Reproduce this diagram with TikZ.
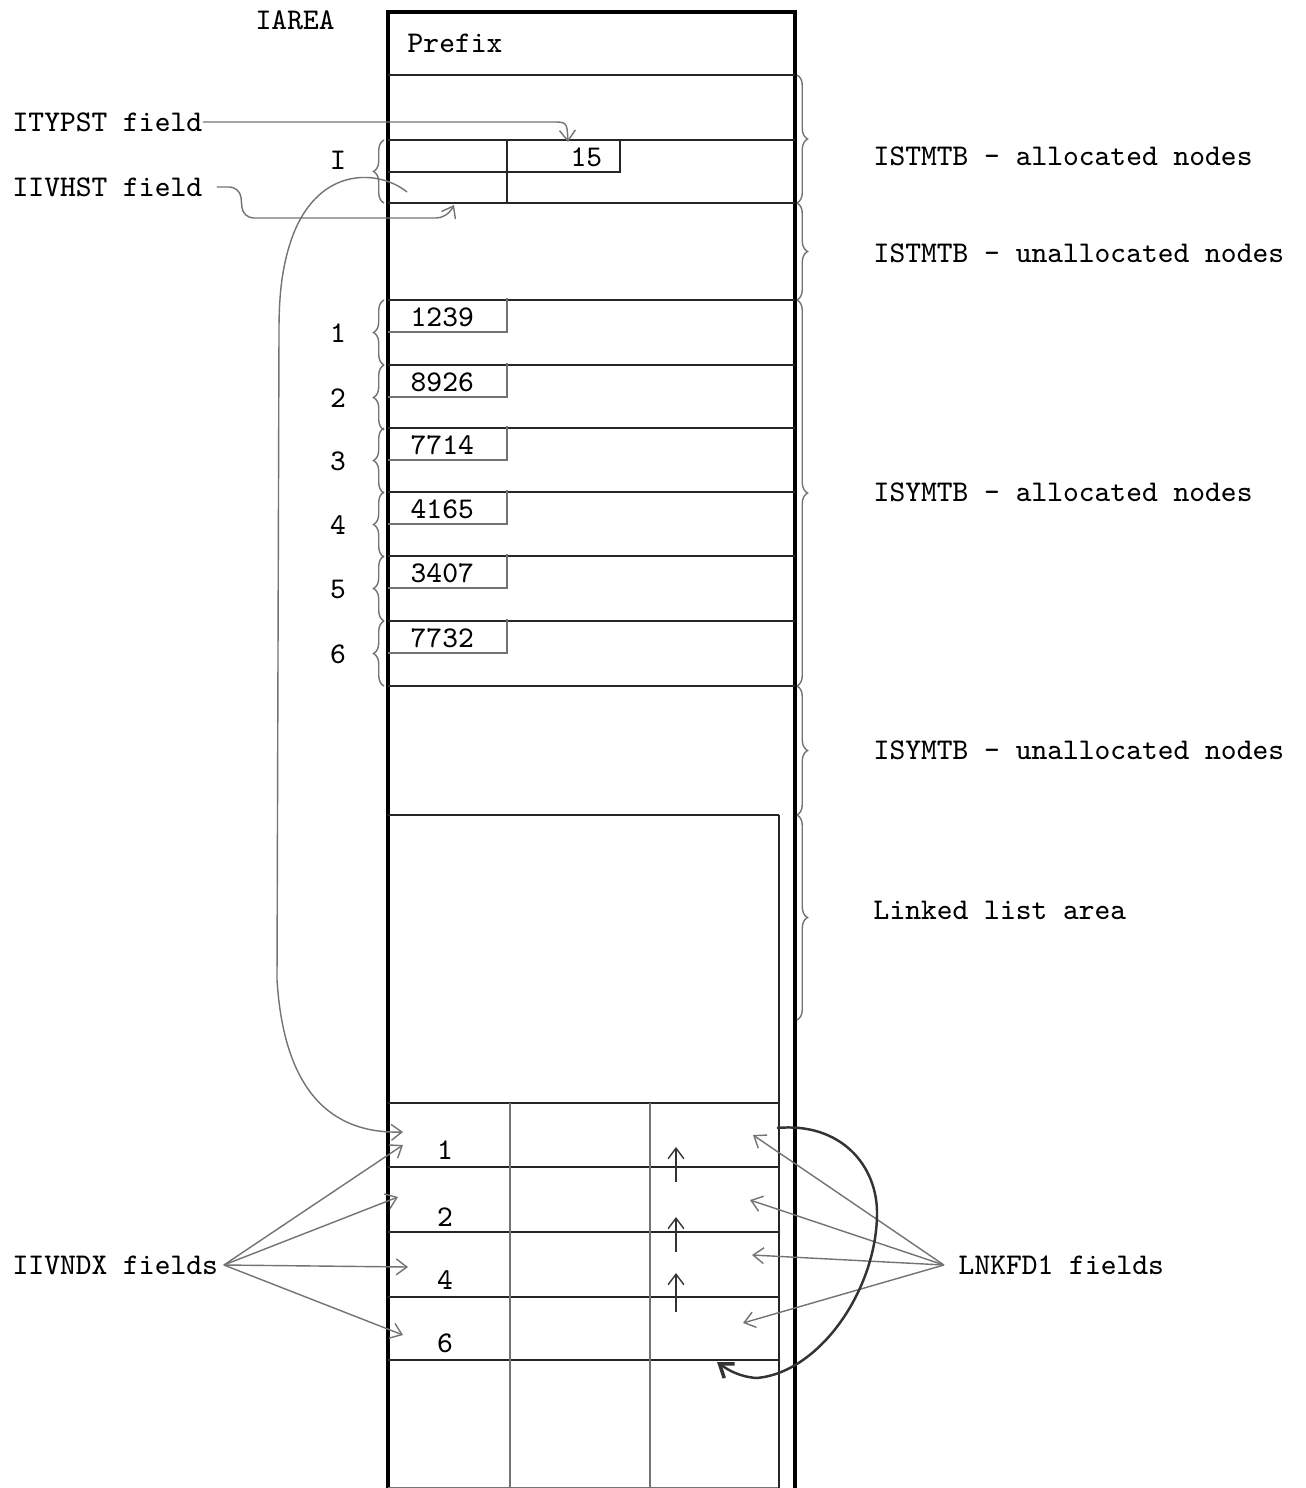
\documentclass[tikz,border=0pt]{standalone}
\usepackage{fontspec}
\usetikzlibrary{arrows.meta, decorations.pathreplacing, positioning}

\tikzset{
  wall/.style={line width=0.9pt, black},
  rule/.style={line width=0.6pt, black!85},
  thinrule/.style={line width=0.4pt, black!55},
  lbl/.style={font=\ttfamily\fontsize{8.55}{10}\selectfont, inner sep=0pt, anchor=west},
  pencil/.style={line width=0.4pt, black!55, -{Straight Barb[length=3pt,width=4.5pt]}},
  heavypencil/.style={line width=0.7pt, black!80, -{Straight Barb[length=3.5pt,width=5pt,line width=1pt]}},
  bracemark/.style={decorate, decoration={brace, amplitude=3pt}, line width=0.4pt, black!55},
}

\begin{document}
\begin{tikzpicture}[x=0.01cm, y=-0.01cm]
  \useasboundingbox (0,0) rectangle (1305,1488);

  % Column outline
  \draw[wall] (388,1488) -- (388,12) -- (795,12) -- (795,1488);
  \draw[thinrule] (388,1488) -- (779,1488);
  \draw[rule] (779,815) -- (779,1488);

  % Separators
  \foreach \y in {75,140,203,300,365,428,492,556,621,686}
    \draw[rule] (388,\y) -- (795,\y);
  \foreach \y in {815,1103,1167,1232,1297,1360}
    \draw[rule] (388,\y) -- (779,\y);

  % Statement node I
  \draw[rule] (507,140) -- (507,203);
  \draw[rule] (388,172) -- (620,172) -- (620,140);
  \node[lbl] (val15) at (570,157) {15};
  \node[lbl, anchor=center] (slotI) at (338,160) {I};
  \draw[bracemark] (384,203) -- (384,140);

  % Symbol nodes
  \foreach \v/\t [count=\i] in {1239/300, 8926/365, 7714/428, 4165/492, 3407/556, 7732/621} {
    \draw[thinrule] (388,\t+32) -- (507,\t+32) -- (507,\t-2);
    \node[lbl] (sym\i) at (410,\t+17) {\v};
    \node[lbl, anchor=center] (num\i) at (338,\t+33) {\i};
    \draw[bracemark] (384,\t+65) -- (384,\t);
  }

  % Linked list cells
  \draw[thinrule] (510,1103) -- (510,1488);
  \draw[thinrule] (650,1103) -- (650,1488);
  \foreach \n/\y in {1/1150, 2/1217, 4/1280, 6/1343}
    \node[lbl, anchor=center] (cell\n) at (445,\y) {\n};
  \foreach \a/\b [count=\i] in {1182/1147, 1252/1217, 1312/1273} {
    \coordinate (upfrom\i) at (676,\a);
    \coordinate (upto\i) at (676,\b);
    \draw[pencil, black!80] (upfrom\i) -- (upto\i);
  }

  % Right braces
  \draw[bracemark] (797,75) -- (797,203);
  \draw[bracemark] (797,203) -- (797,300);
  \draw[bracemark] (797,300) -- (797,686);
  \draw[bracemark] (797,686) -- (797,815);
  \draw[bracemark] (797,815) -- (797,1020);

  % Labels
  \node[lbl] (iarea) at (255,20) {IAREA};
  \node[lbl] (prefix) at (407,43) {Prefix};
  \node[lbl] (stmalloc) at (873,156) {ISTMTB - allocated nodes};
  \node[lbl] (stmfree) at (873,253) {ISTMTB - unallocated nodes};
  \node[lbl] (symalloc) at (873,492) {ISYMTB - allocated nodes};
  \node[lbl] (symfree) at (873,750) {ISYMTB - unallocated nodes};
  \node[lbl] (llarea) at (873,910) {Linked list area};

  % ITYPST field
  \node[lbl] (itypst) at (12,122) {ITYPST field};
  \coordinate (typtip) at (568,142);
  \draw[pencil] (itypst.east) -- (552,122) .. controls (567,122) .. (typtip);

  % IIVHST field
  \node[lbl] (iivhst) at (12,187) {IIVHST field};
  \coordinate (hsttip) at (454,205);
  \draw[pencil, rounded corners=3pt] ([xshift=4pt]iivhst.east) -- (240,187) -- (243,218) -- (447,218) -- (hsttip);

  % IIVHST chain into linked list
  \coordinate (hstfrom) at (407,192);
  \coordinate (chaintip) at (403,1132);
  \draw[pencil] (hstfrom) .. controls (380,170) and (320,165) .. (293,235)
    .. controls (283,262) and (279,290) .. (279,330) -- (277,980)
    .. controls (284,1090) and (330,1134) .. (chaintip);

  % IIVNDX fields
  \node[lbl] (iivndx) at (12,1265) {IIVNDX fields};
  \foreach \tx/\ty [count=\i] in {403/1145, 398/1197, 408/1267, 403/1335} {
    \coordinate (ndx\i) at (\tx,\ty);
    \draw[pencil] ([xshift=1.5pt]iivndx.east) -- (ndx\i);
  }

  % LNKFD1 fields
  \node[lbl] (lnkfd) at (958,1265) {LNKFD1 fields};
  \foreach \tx/\ty [count=\i] in {753/1135, 750/1200, 752/1255, 743/1323} {
    \coordinate (lnk\i) at (\tx,\ty);
    \draw[pencil] ([xshift=-4pt]lnkfd.west) -- (lnk\i);
  }

  % Loop back to last cell
  \coordinate (loopfrom) at (777,1128);
  \coordinate (looptip) at (717,1362);
  \draw[heavypencil] (loopfrom) .. controls (840,1122) and (878,1165) .. (877,1215)
    .. controls (876,1290) and (820,1372) .. (757,1378)
    .. controls (740,1377) and (728,1370) .. (looptip);
\end{tikzpicture}
\end{document}
